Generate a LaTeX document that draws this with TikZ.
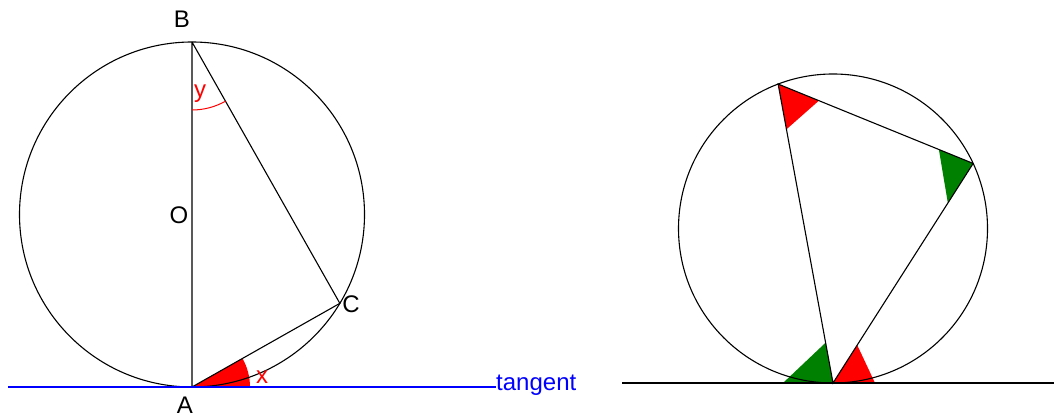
\documentclass[tikz,border=0pt]{standalone}
\usepackage{fontspec}
\setmainfont{Liberation Sans}
\usetikzlibrary{calc}
\definecolor{dkgreen}{RGB}{0,128,0}
\definecolor{tanblue}{RGB}{0,0,255}
\begin{document}
\begin{tikzpicture}[x=1pt,y=1pt,
  geo/.style={line width=1.1pt, black},
  lbl/.style={inner sep=0pt, font=\fontsize{24}{28}\selectfont},
  markarc/.style={red, line width=1pt}]
\useasboundingbox (0,0) rectangle (1054,418);
% ---------- left figure ----------
\coordinate (O) at (192,203.5);
\coordinate (B) at ($(O)+(90:172.5)$);
\coordinate (A) at ($(O)+(-90:172.5)$);
\coordinate (C) at ($(O)+(-31:172.5)$);
\coordinate (tl) at (8,31);
\fill[red] (A) -- ++(0:58) arc[start angle=0, end angle=29.5, radius=58] -- cycle;
\draw[geo] (O) circle[radius=172.5];
\draw[geo] (B) -- (A) -- (C) -- (B);
\draw[markarc] ($(B)+(-90:68)$) arc[start angle=-90, end angle=-60.5, radius=68];
\node[lbl, text=tanblue, anchor=base west] (tg) at (496,28) {tangent};
\draw[draw=tanblue, line width=1.4pt] (tl) -- (tg.west |- A);
\node[lbl] (lB) at (182,399) {B};
\node[lbl] (lO) at (179,203) {O};
\node[lbl] (lC) at (351,114) {C};
\node[lbl, anchor=north] (lA) at (185,21.5) {A};
\node[lbl, red] (lx) at (262,41) {x};
\node[lbl, red, anchor=base] (ly) at (200,320) {y};
% ---------- right figure ----------
\coordinate (Q) at (833,189.5);
\coordinate (T) at (833,35);
\coordinate (P1) at ($(Q)+(110.8:154.5)$);
\coordinate (P2) at ($(Q)+(24.9:154.5)$);
\coordinate (gl) at (622,35);
\coordinate (gr) at (1054,35);
\fill[dkgreen] (T) -- ($(T)!50pt!(gl)$) -- ($(T)!41pt!(P1)$) -- cycle;
\fill[red] (T) -- ($(T)!42pt!(gr)$) -- ($(T)!45pt!(P2)$) -- cycle;
\fill[red] (P1) -- ($(P1)!44pt!(P2)$) -- ($(P1)!46pt!(T)$) -- cycle;
\fill[dkgreen] (P2) -- ($(P2)!37pt!(P1)$) -- ($(P2)!47pt!(T)$) -- cycle;
\draw[geo] (Q) circle[radius=154.5];
\draw[geo] (T) -- (P1) -- (P2) -- cycle;
\draw[geo] (gl) -- (gr);
\end{tikzpicture}
\end{document}
